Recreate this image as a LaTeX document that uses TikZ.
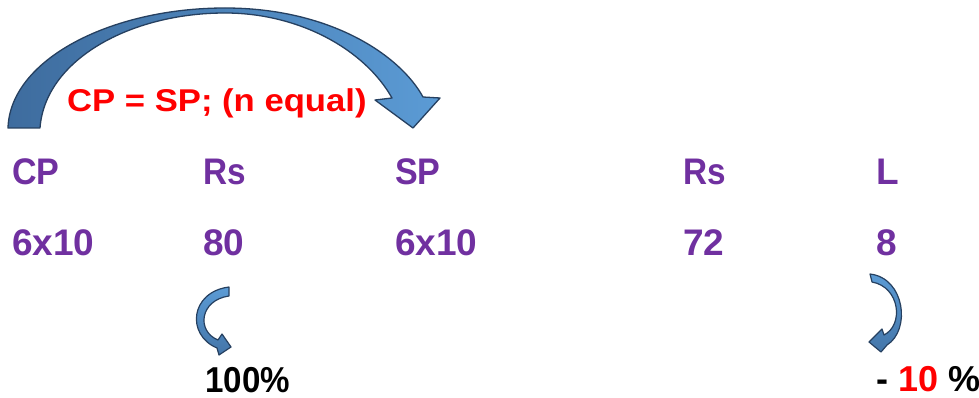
\documentclass[tikz,border=0pt]{standalone}
\usepackage{fontspec}
\usepackage{graphicx}
\setmainfont{Liberation Sans}
\definecolor{vpurple}{HTML}{7030A0}
\definecolor{vred}{HTML}{FF0000}
\definecolor{arrowdark}{RGB}{62,108,158}
\definecolor{arrowlight}{RGB}{91,155,213}
\definecolor{arrowline}{RGB}{38,64,96}
\tikzset{
  blockarrow/.style={draw=arrowline, line width=1.3pt, line join=round, left color=arrowdark, right color=arrowlight},
  smallarrow/.style={draw=arrowline, line width=1.2pt, line join=round, top color=arrowlight, bottom color=arrowdark!80!arrowlight},
  rowtxt/.style={anchor=base west, inner sep=0pt, text=vpurple, font=\bfseries\fontsize{37}{40}\selectfont},
  pcttxt/.style={anchor=base west, inner sep=0pt, text=black, font=\bfseries\fontsize{36}{40}\selectfont},
  titletxt/.style={anchor=base west, inner sep=0pt, text=vred, font=\bfseries\fontsize{31.5}{36}\selectfont}
}
\begin{document}
\begin{tikzpicture}[x=1pt, y=-1pt]
\useasboundingbox (0,0) rectangle (979,398);
% big curved arrow
\path[blockarrow] (8,128) .. controls (10,60) and (110,8) .. (225,8)
  .. controls (330,8) and (400,55) .. (423,97) -- (440,98) -- (413,128) -- (375,100) -- (392,98)
  .. controls (365,50) and (300,13) .. (225,13)
  .. controls (130,13) and (45,60) .. (40,128) -- cycle;
% small arrow under 80
\path[smallarrow] (229,287) .. controls (190,292) and (186,335) .. (217,348)
  -- (219,355) -- (231,347) -- (222,334) -- (218,340)
  .. controls (196,331) and (200,300) .. (229,296) -- cycle;
% small arrow under 8
\path[smallarrow] (870,274) .. controls (905,278) and (911,330) .. (887,345)
  -- (881,352) -- (869,342) -- (882,329) -- (884,335)
  .. controls (904,325) and (900,287) .. (872,282) -- cycle;
% title
\node[titletxt] (title) at (67,112) {\scalebox{1.1}[1]{CP = SP; (n equal)}};
% row 1
\node[rowtxt] (cp) at (12,185) {\scalebox{0.92}[1]{CP}};
\node[rowtxt] (rs1) at (203,185) {\scalebox{0.9}[1]{Rs}};
\node[rowtxt] (sp) at (395,185) {\scalebox{0.92}[1]{SP}};
\node[rowtxt] (rs2) at (683,185) {\scalebox{0.9}[1]{Rs}};
\node[rowtxt] (l) at (876,185) {L};
% row 2
\node[rowtxt] (cpv) at (12,255) {6x10};
\node[rowtxt] (rs1v) at (203,255) {80};
\node[rowtxt] (spv) at (395,255) {6x10};
\node[rowtxt] (rs2v) at (683,255) {72};
\node[rowtxt] (lv) at (876,255) {8};
% percentages
\node[pcttxt] (p100) at (205,392) {\scalebox{0.92}[1]{100\%}};
\node[pcttxt] (p10) at (876,391) {- {\color{vred}10} \%};
\end{tikzpicture}
\end{document}
